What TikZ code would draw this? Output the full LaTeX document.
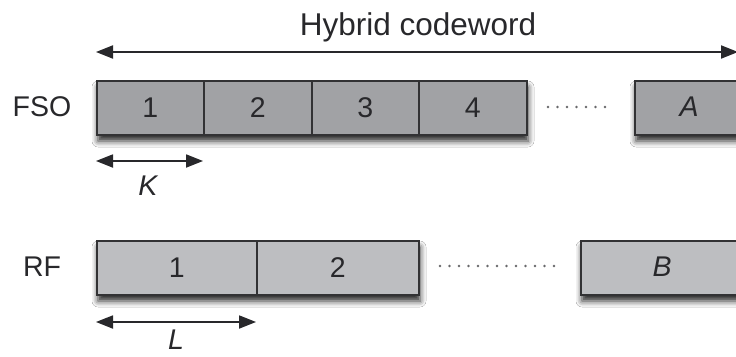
\documentclass[tikz,border=0pt]{standalone}
\usepackage{fontspec}
\setmainfont{Liberation Sans}
\usetikzlibrary{arrows.meta,shadows.blur}
\definecolor{fsofill}{RGB}{161,162,165}
\definecolor{rffill}{RGB}{189,190,193}
\definecolor{edge}{RGB}{50,50,52}
\definecolor{ink}{RGB}{40,40,43}
\tikzset{
  slot/.style={draw=edge, line width=1.7pt, minimum height=54pt, inner sep=0pt,
    font=\fontsize{28.5}{31}\selectfont, text=ink, anchor=north west},
  fsoslot/.style={slot, fill=fsofill},
  rfslot/.style={slot, fill=rffill},
  rowshadow/.style={blur shadow={shadow xshift=2pt, shadow yshift=-7pt,
    shadow blur radius=6pt, shadow opacity=85}},
  lbl/.style={font=\fontsize{28.5}{31}\selectfont, text=ink, inner sep=0pt},
  span/.style={draw=ink, line width=1.8pt,
    {Triangle[length=17pt,width=13pt]}-{Triangle[length=17pt,width=13pt]}},
  gap/.style={draw=ink!70, line width=2.6pt, line cap=round, dash pattern=on 0pt off 9.5pt}
}
\begin{document}
\begin{tikzpicture}[x=1pt,y=-1pt]
\clip (0,0) rectangle (736,356);
\fill[white] (0,0) rectangle (736,356);

% overall codeword span
\node[lbl, font=\fontsize{31.5}{34}\selectfont] (title) at (418,27) {Hybrid codeword};
\coordinate (cwL) at (96,52);
\coordinate (cwR) at (738,52);
\draw[span] (cwL) -- (cwR);

% FSO row
\node[lbl] (fso) at (42,107) {FSO};
\path[rowshadow, fill=fsofill] (96,80) rectangle (526,134);
\path[rowshadow, fill=fsofill] (634,80) rectangle (760,134);
\node[fsoslot, minimum width=107pt] (f1) at (96,80) {1};
\node[fsoslot, minimum width=108pt] (f2) at (203,80) {2};
\node[fsoslot, minimum width=107pt] (f3) at (311,80) {3};
\node[fsoslot, minimum width=108pt] (f4) at (418,80) {4};
\node[fsoslot, minimum width=110pt] (fA) at (634,80) {};
\node[lbl] (A) at (689,107) {\itshape A};
\coordinate (fd1) at (548,107);
\coordinate (fd2) at (610,107);
\draw[gap] (fd1) -- (fd2);

% K span
\coordinate (kL) at (96,161);
\coordinate (kR) at (203,161);
\draw[span] (kL) -- (kR);
\node[lbl] (K) at (148,186) {\itshape K};

% RF row
\node[lbl] (rf) at (42,267) {RF};
\path[rowshadow, fill=rffill] (96,240) rectangle (418,294);
\path[rowshadow, fill=rffill] (580,240) rectangle (760,294);
\node[rfslot, minimum width=160pt] (r1) at (96,240) {1};
\node[rfslot, minimum width=162pt] (r2) at (256,240) {2};
\node[rfslot, minimum width=170pt] (rB) at (580,240) {};
\node[lbl] (B) at (662,267) {\itshape B};
\coordinate (rd1) at (440,266);
\coordinate (rd2) at (560,266);
\draw[gap] (rd1) -- (rd2);

% L span
\coordinate (lL) at (96,322);
\coordinate (lR) at (256,322);
\draw[span] (lL) -- (lR);
\node[lbl] (L) at (176,340) {\itshape L};
\end{tikzpicture}
\end{document}
